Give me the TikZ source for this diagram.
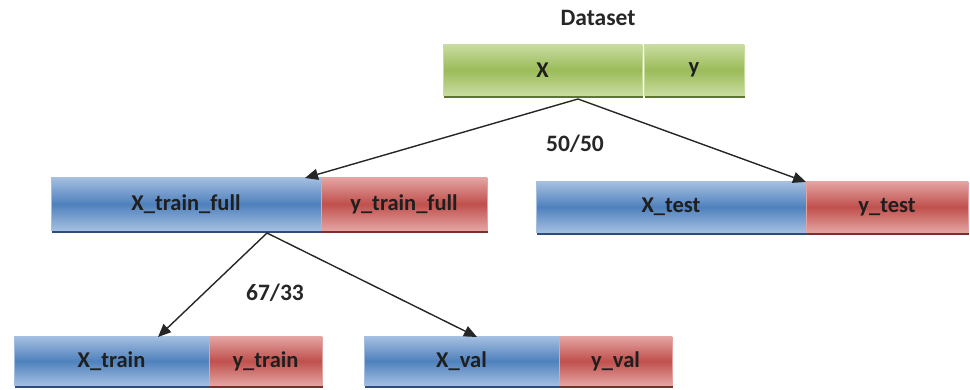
\documentclass[tikz,border=0pt]{standalone}
\usepackage{fontspec}
\setmainfont{Carlito}
\usepackage{tikz}
\usetikzlibrary{arrows.meta, positioning, shadows}
\definecolor{split-blue}{HTML}{4F81BD}
\definecolor{split-blue-light}{HTML}{A3BEE0}
\definecolor{split-blue-dark}{HTML}{2E4C78}
\definecolor{split-red}{HTML}{C0504D}
\definecolor{split-red-light}{HTML}{E3A3A1}
\definecolor{split-red-dark}{HTML}{7A2F2D}
\definecolor{split-green}{HTML}{9BBB59}
\definecolor{split-green-light}{HTML}{C8DCA0}
\definecolor{split-green-dark}{HTML}{5E7530}

\begin{document}
\begin{tikzpicture}[x=1pt, y=-1pt,
    part/.style={minimum height=50pt, inner sep=0pt, outer sep=0pt,
        font=\fontsize{22.5}{26}\selectfont\bfseries, text=black!88},
    xpart/.style={part, draw=split-blue-light, line width=0.6pt,
        top color=split-blue-light, bottom color=split-blue-light, middle color=split-blue,
        general shadow={fill=split-blue-dark, shadow xshift=1pt, shadow yshift=-3pt}},
    ypart/.style={part, draw=split-red-light, line width=0.6pt,
        top color=split-red-light, bottom color=split-red-light, middle color=split-red,
        general shadow={fill=split-red-dark, shadow xshift=1pt, shadow yshift=-3pt}},
    dpart/.style={part, draw=split-green-light, line width=0.6pt,
        top color=split-green-light, bottom color=split-green-light, middle color=split-green,
        general shadow={fill=split-green-dark, shadow xshift=1pt, shadow yshift=-3pt}},
    ratio/.style={font=\fontsize{23.5}{27}\selectfont\bfseries, text=black!85},
    split/.style={draw=black!85, line width=1.4pt, -{Triangle[length=13pt,width=11pt]}}
]
    \useasboundingbox (0,0) rectangle (970,390);

    % dataset
    \node[ratio] (dsname) at (598,18) {Dataset};
    \node[dpart, minimum width=199pt] (xdata) at (542.5,70) {X};
    \node[dpart, minimum width=100pt, right=2pt of xdata] (ydata) {y};

    % first split
    \node[xpart, minimum width=270pt, minimum height=52pt] (xtrainfull) at (186,204) {X\_train\_full};
    \node[ypart, minimum width=166pt, minimum height=52pt, right=0pt of xtrainfull] (ytrainfull) {y\_train\_full};
    \node[xpart, minimum width=270pt] (xtest) at (671,207) {X\_test};
    \node[ypart, minimum width=162pt, right=0pt of xtest] (ytest) {y\_test};

    % second split
    \node[xpart, minimum width=195pt, minimum height=48pt] (xtrain) at (111.5,361) {X\_train};
    \node[ypart, minimum width=113pt, minimum height=48pt, right=0pt of xtrain] (ytrain) {y\_train};
    \node[xpart, minimum width=195pt, minimum height=48pt] (xval) at (461.5,361) {X\_val};
    \node[ypart, minimum width=113pt, minimum height=48pt, right=0pt of xval] (yval) {y\_val};

    \node[ratio] (ratio1) at (575,144) {50/50};
    \node[ratio] (ratio2) at (275,293) {67/33};

    \draw[split] ([xshift=35.5pt, yshift=-4pt]xdata.south) -- ([xshift=119pt]xtrainfull.north);
    \draw[split] ([xshift=35.5pt, yshift=-4pt]xdata.south) -- (xtest.north east);
    \draw[split] ([xshift=81pt, yshift=-3pt]xtrainfull.south) -- ([xshift=46.5pt]xtrain.north);
    \draw[split] ([xshift=81pt, yshift=-3pt]xtrainfull.south) -- ([xshift=15.5pt]xval.north);
\end{tikzpicture}
\end{document}
